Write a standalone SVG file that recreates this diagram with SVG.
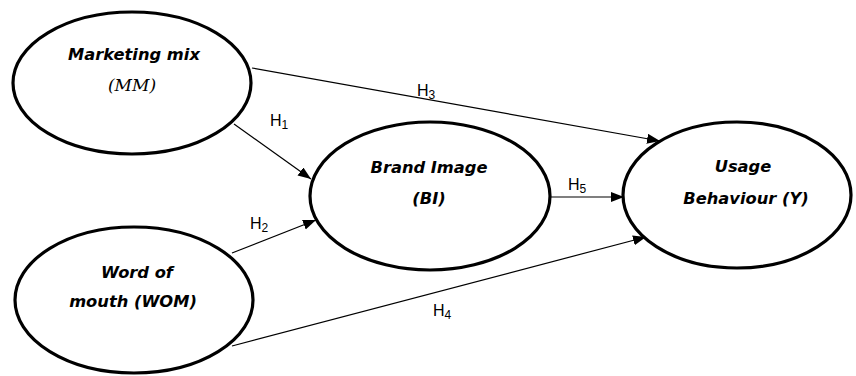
<svg xmlns="http://www.w3.org/2000/svg" width="856" height="376" viewBox="0 0 856 376">
<style>
.node ellipse{fill:#fff;stroke:#000;stroke-width:3.2}
.lbl{font-family:"DejaVu Sans",Verdana,sans-serif;font-weight:bold;font-style:italic;font-size:16.3px;text-anchor:middle;fill:#000}
.lt{font-family:"DejaVu Serif","Liberation Serif",serif;font-style:italic;font-size:17px;text-anchor:middle;fill:#000}
.conn line{stroke:#000;stroke-width:1.2;fill:none}
.h{font-family:"Liberation Sans",Arial,sans-serif;font-size:16px;fill:#000}
.h tspan{font-size:12px}
</style>
<defs>
<marker id="arr" markerUnits="userSpaceOnUse" markerWidth="14" markerHeight="11" refX="13" refY="5" orient="auto">
<path d="M0,0 L13,5 L0,10 z" fill="#000"/>
</marker>
</defs>
<g id="connectors" class="conn">
<line x1="252" y1="68" x2="660" y2="141" marker-end="url(#arr)"/>
<line x1="234" y1="124" x2="311" y2="179" marker-end="url(#arr)"/>
<line x1="232" y1="253" x2="316" y2="220" marker-end="url(#arr)"/>
<line x1="232" y1="346" x2="646" y2="237" marker-end="url(#arr)"/>
<line x1="551" y1="197" x2="624" y2="197" marker-end="url(#arr)"/>
</g>
<g id="node-mm" class="node">
<ellipse cx="132" cy="83" rx="119" ry="71"/>
<text class="lbl" x="134" y="60">Marketing mix</text>
<text class="lt" x="132" y="91">(MM)</text>
</g>
<g id="node-wom" class="node">
<ellipse cx="134" cy="300" rx="119" ry="73"/>
<text class="lbl" x="137" y="278">Word of</text>
<text class="lbl" x="133" y="307">mouth (WOM)</text>
</g>
<g id="node-bi" class="node">
<ellipse cx="430" cy="196" rx="120" ry="74"/>
<text class="lbl" x="429" y="173">Brand Image</text>
<text class="lbl" x="429" y="204">(BI)</text>
</g>
<g id="node-y" class="node">
<ellipse cx="737" cy="195" rx="114" ry="73"/>
<text class="lbl" x="743" y="172">Usage</text>
<text class="lbl" x="746" y="204">Behaviour (Y)</text>
</g>
<g id="edge-labels">
<text class="h" x="270" y="126">H<tspan dy="3">1</tspan></text>
<text class="h" x="250" y="229">H<tspan dy="3">2</tspan></text>
<text class="h" x="417" y="96">H<tspan dy="3">3</tspan></text>
<text class="h" x="433" y="316">H<tspan dy="3">4</tspan></text>
<text class="h" x="568" y="190">H<tspan dy="3">5</tspan></text>
</g>
</svg>
